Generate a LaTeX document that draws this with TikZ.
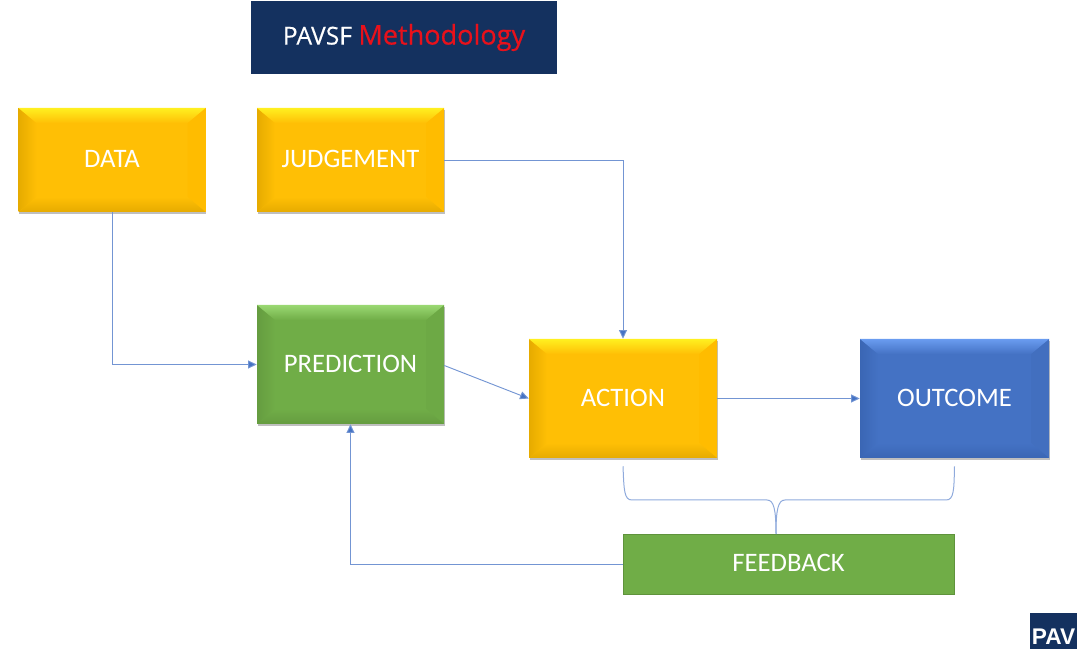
\documentclass[tikz,border=0pt]{standalone}
\usepackage{fontspec}
\setmainfont{Carlito}
\newfontfamily\bannerfont[FakeBold=0.5]{Open Sans}
\newfontfamily\bannerplain[FakeBold=0.2]{Open Sans}
\usetikzlibrary{arrows.meta,calc,shadows,fadings}
\definecolor{amberbase}{HTML}{FFBF05}
\definecolor{amberlight}{HTML}{FFF020}
\definecolor{amberdark}{HTML}{E6AB00}
\definecolor{amberedge}{HTML}{FFBC00}
\definecolor{leafbase}{HTML}{70AD47}
\definecolor{leaflight}{HTML}{9AD872}
\definecolor{leafdark}{HTML}{659C40}
\definecolor{leafedge}{HTML}{6DA945}
\definecolor{seabase}{HTML}{4472C4}
\definecolor{sealight}{HTML}{6A9CF0}
\definecolor{seadark}{HTML}{3A66B4}
\definecolor{seaedge}{HTML}{426FBF}
\definecolor{linkblue}{HTML}{4472C4}
\definecolor{bracketblue}{HTML}{8FAADC}
\definecolor{navy}{HTML}{14315F}
\definecolor{titlered}{HTML}{E8111B}
\definecolor{frameleaf}{HTML}{5F933C}
\tikzset{
  x=0.75pt, y=-0.75pt,
  link/.style={draw=linkblue!75!white, line width=0.7pt, -{Triangle[length=6.5pt,width=6pt,fill=linkblue]}},
  bracket/.style={draw=bracketblue, line width=0.75pt},
  label text/.style={text=white, font=\fontsize{20}{22}\selectfont, align=center, text depth=1.5pt},
  % raised rectangle: colour stem as the argument, four bevel facets inside
  bevelbox/.style={
    label text, inner sep=0pt, fill=#1base,
    general shadow={shadow xshift=0.6pt, shadow yshift=-1.2pt, opacity=0.25, fill=black},
    path picture={
      \coordinate (nw) at (path picture bounding box.north west);
      \coordinate (ne) at (path picture bounding box.north east);
      \coordinate (sw) at (path picture bounding box.south west);
      \coordinate (se) at (path picture bounding box.south east);
      \fill[#1edge] (ne) -- ($(ne)+(-18,15)$) -- ($(se)+(-18,-15)$) -- (se) -- cycle;
      \shade[left color=#1dark, right color=#1base] (nw) -- ($(nw)+(18,15)$) -- ($(sw)+(18,-15)$) -- (sw) -- cycle;
      \shade[top color=#1base, bottom color=#1dark] (sw) -- ($(sw)+(18,-15)$) -- ($(se)+(-18,-15)$) -- (se) -- cycle;
      \shade[top color=#1light, bottom color=#1base] (nw) -- (ne) -- ($(ne)+(-18,15)$) -- ($(nw)+(18,15)$) -- cycle;
    }
  },
  panel/.style={inner sep=0pt, fill=navy, text=white},
}
\begin{document}
\begin{tikzpicture}
\useasboundingbox (0,0) rectangle (1083,652);

% title banner and corner badge
\node[panel, minimum width=229.5pt, minimum height=54.75pt] (title) at (404,37.5)
  {\bannerplain\fontsize{18.5}{20}\selectfont PAVSF {\color{titlered}\bannerfont\fontsize{20.3}{22}\selectfont Methodology}};
\node[panel, minimum width=35.25pt, minimum height=27pt] (badge) at (1053.5,631) {};
\node[text=white, font=\fontsize{17}{17}\fontspec{Liberation Sans}\bfseries, inner sep=0pt] (badgetext) at (1053.5,636.5) {PAV};

% process boxes
\node[bevelbox=amber, minimum width=140.25pt, minimum height=78pt] (data) at (112,160) {DATA};
\node[bevelbox=amber, minimum width=140.25pt, minimum height=78pt] (judgement) at (350.5,160) {JUDGEMENT};
\node[bevelbox=leaf, minimum width=140.25pt, minimum height=89.25pt] (prediction) at (350.5,364.5) {PREDICTION};
\node[bevelbox=amber, minimum width=141pt, minimum height=89.25pt] (action) at (623,398.5) {ACTION};
\node[bevelbox=sea, minimum width=141.75pt, minimum height=89.25pt] (outcome) at (954.5,398.5) {OUTCOME};
\node[label text, fill=leafbase, draw=frameleaf, line width=0.6pt, inner sep=0pt,
      minimum width=248.25pt, minimum height=45pt] (feedback) at (788.5,564) {FEEDBACK};

% connectors
\draw[link] (data.south) |- (prediction.west);
\draw[link] (judgement.east) -| (action.north);
\draw[link] ($(prediction.east)+(0,1)$) -- (action.west);
\draw[link] (action.east) -- (outcome.west);
\draw[link] (feedback.west) -| (prediction.south);

% bracket gathering ACTION and OUTCOME into FEEDBACK
\coordinate (leftend) at ($(action.south)+(0,8)$);
\coordinate (rightend) at ($(outcome.south)+(0,8)$);
\coordinate (stem) at (776,534);
\draw[bracket] (leftend) .. controls (624,490) and (624,500) .. (632,500) -- (767,500)
  .. controls (774,500) and (776,510) .. (stem);
\draw[bracket] (rightend) .. controls (954,490) and (954,500) .. (946,500) -- (785,500)
  .. controls (778,500) and (776,510) .. (stem);
\end{tikzpicture}
\end{document}
